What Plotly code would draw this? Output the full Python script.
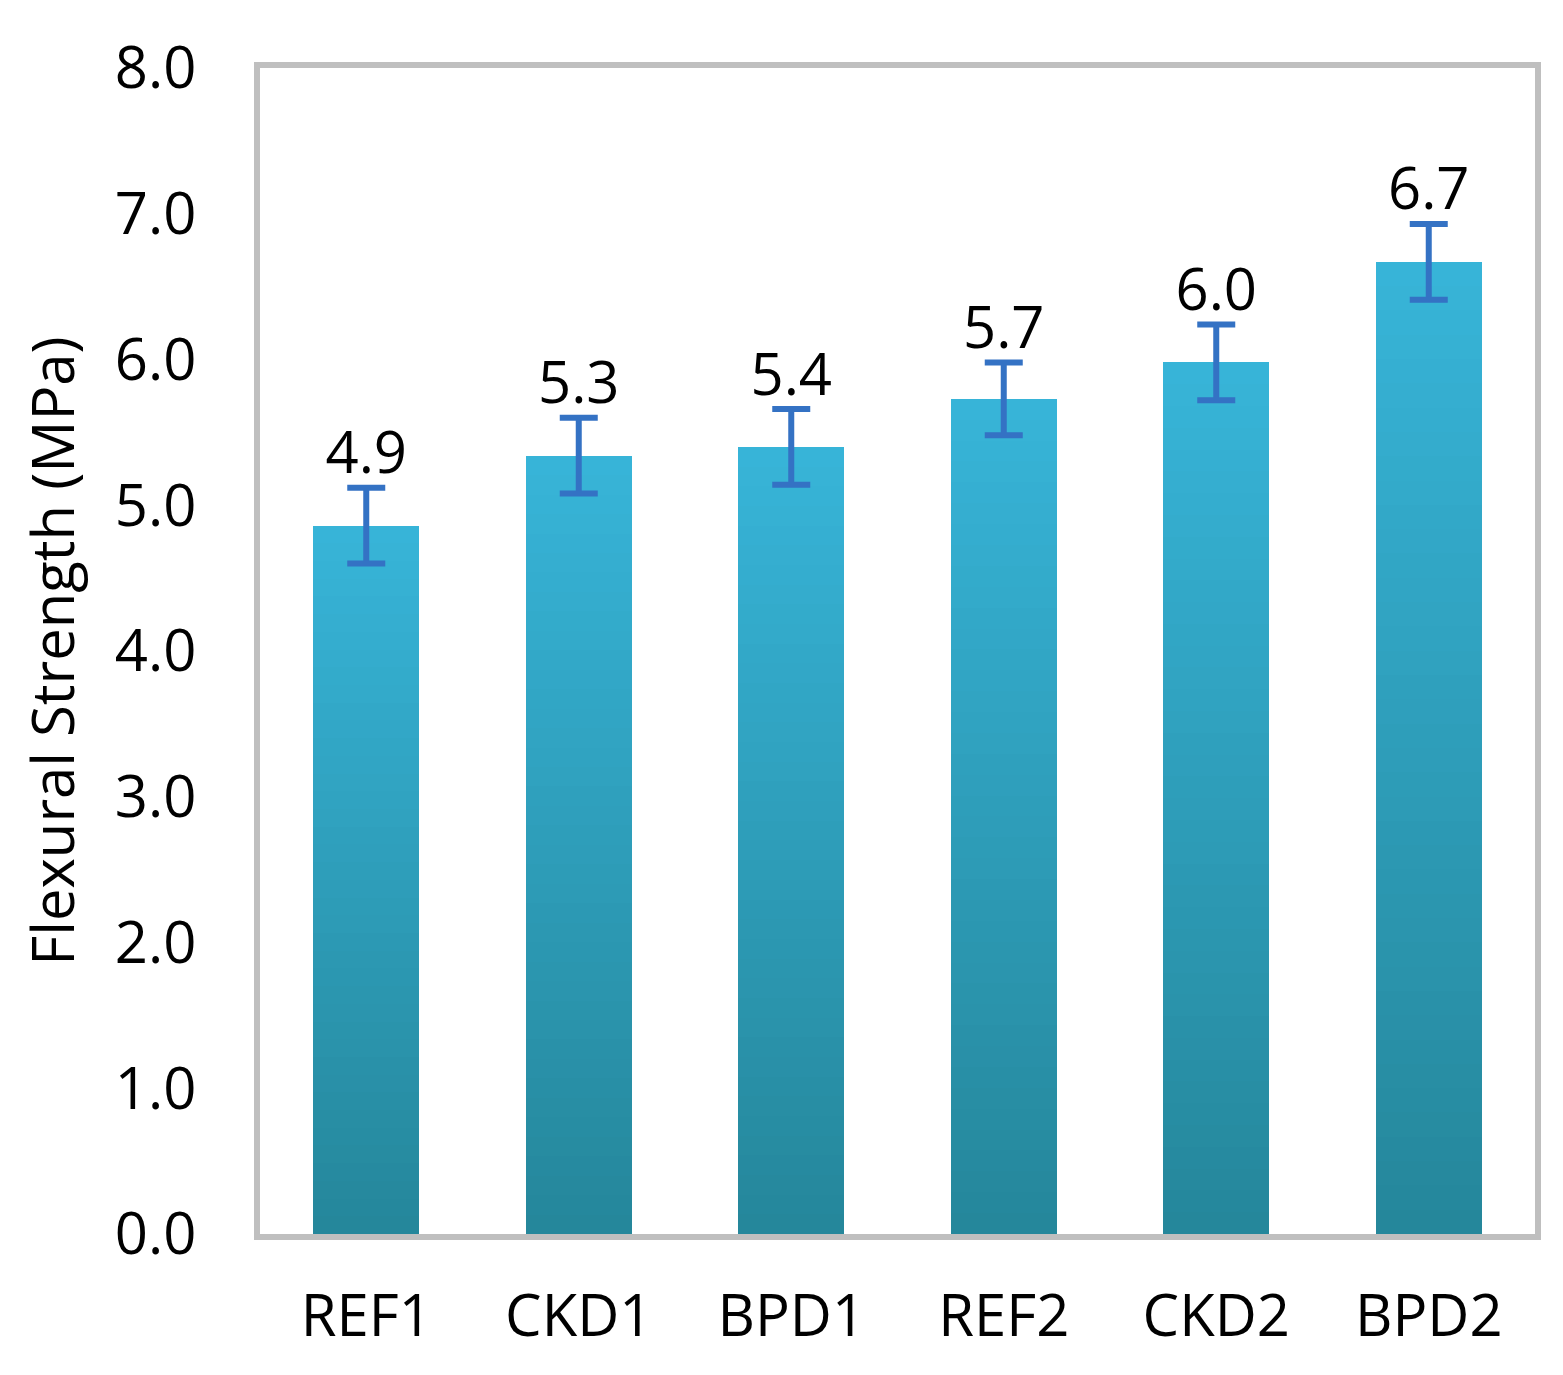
import plotly.graph_objects as go

categories = ["REF1", "CKD1", "BPD1", "REF2", "CKD2", "BPD2"]
strength = [4.86, 5.34, 5.40, 5.73, 5.98, 6.67]
error = [0.26, 0.26, 0.26, 0.25, 0.26, 0.26]
y_ticks = [0, 1, 2, 3, 4, 5, 6, 7, 8]

# gradient colours (bottom -> top of each bar)
c_bottom = (0x25, 0x87, 0x9b)
c_top = (0x37, 0xb4, 0xd8)
n_seg = 40

fig = go.Figure()
for k in range(n_seg):
    t = k / (n_seg - 1)
    col = tuple(round(c_bottom[i] + (c_top[i] - c_bottom[i]) * t) for i in range(3))
    fig.add_trace(go.Bar(
        x=categories,
        y=[v / n_seg for v in strength],
        marker=dict(color="rgb(%d,%d,%d)" % col, line=dict(width=0)),
        showlegend=False,
        hoverinfo="skip",
    ))

# error bars
fig.add_trace(go.Scatter(
    x=categories, y=strength, mode="markers",
    marker=dict(size=1, opacity=0),
    error_y=dict(type="data", array=error, visible=True,
                 color="#3472c4", thickness=6, width=19),
    showlegend=False, hoverinfo="skip",
))

# value labels
fig.add_trace(go.Scatter(
    x=categories, y=[v + e for v, e in zip(strength, error)],
    mode="text",
    text=["%.1f" % v for v in strength],
    textposition="top center",
    textfont=dict(family="Open Sans", size=58, color="black"),
    showlegend=False, hoverinfo="skip",
))

fig.update_layout(
    width=1563, height=1375,
    barmode="stack", bargap=0.5,
    plot_bgcolor="white", paper_bgcolor="white",
    margin=dict(l=260, r=28, t=68, b=141),
    font=dict(family="Open Sans", size=58, color="black"),
    xaxis=dict(
        showline=True, mirror=True, linecolor="#bfbfbf", linewidth=6,
        showgrid=False, ticks="", ticklabelstandoff=26,
        tickfont=dict(size=58), layer="below traces",
    ),
    yaxis=dict(
        range=[0, 8], tickvals=y_ticks, tickformat=".1f",
        showline=True, mirror=True, linecolor="#bfbfbf", linewidth=6,
        showgrid=False, zeroline=False, ticks="", ticklabelstandoff=46,
        tickfont=dict(size=58),
        title=dict(text="Flexural Strength (MPa)", font=dict(size=58), standoff=24),
    ),
)

fig.write_html(
    "out.html",
    config={"displayModeBar": False},
    post_script="document.body.style.margin='0px';document.body.style.overflow='hidden';",
)
